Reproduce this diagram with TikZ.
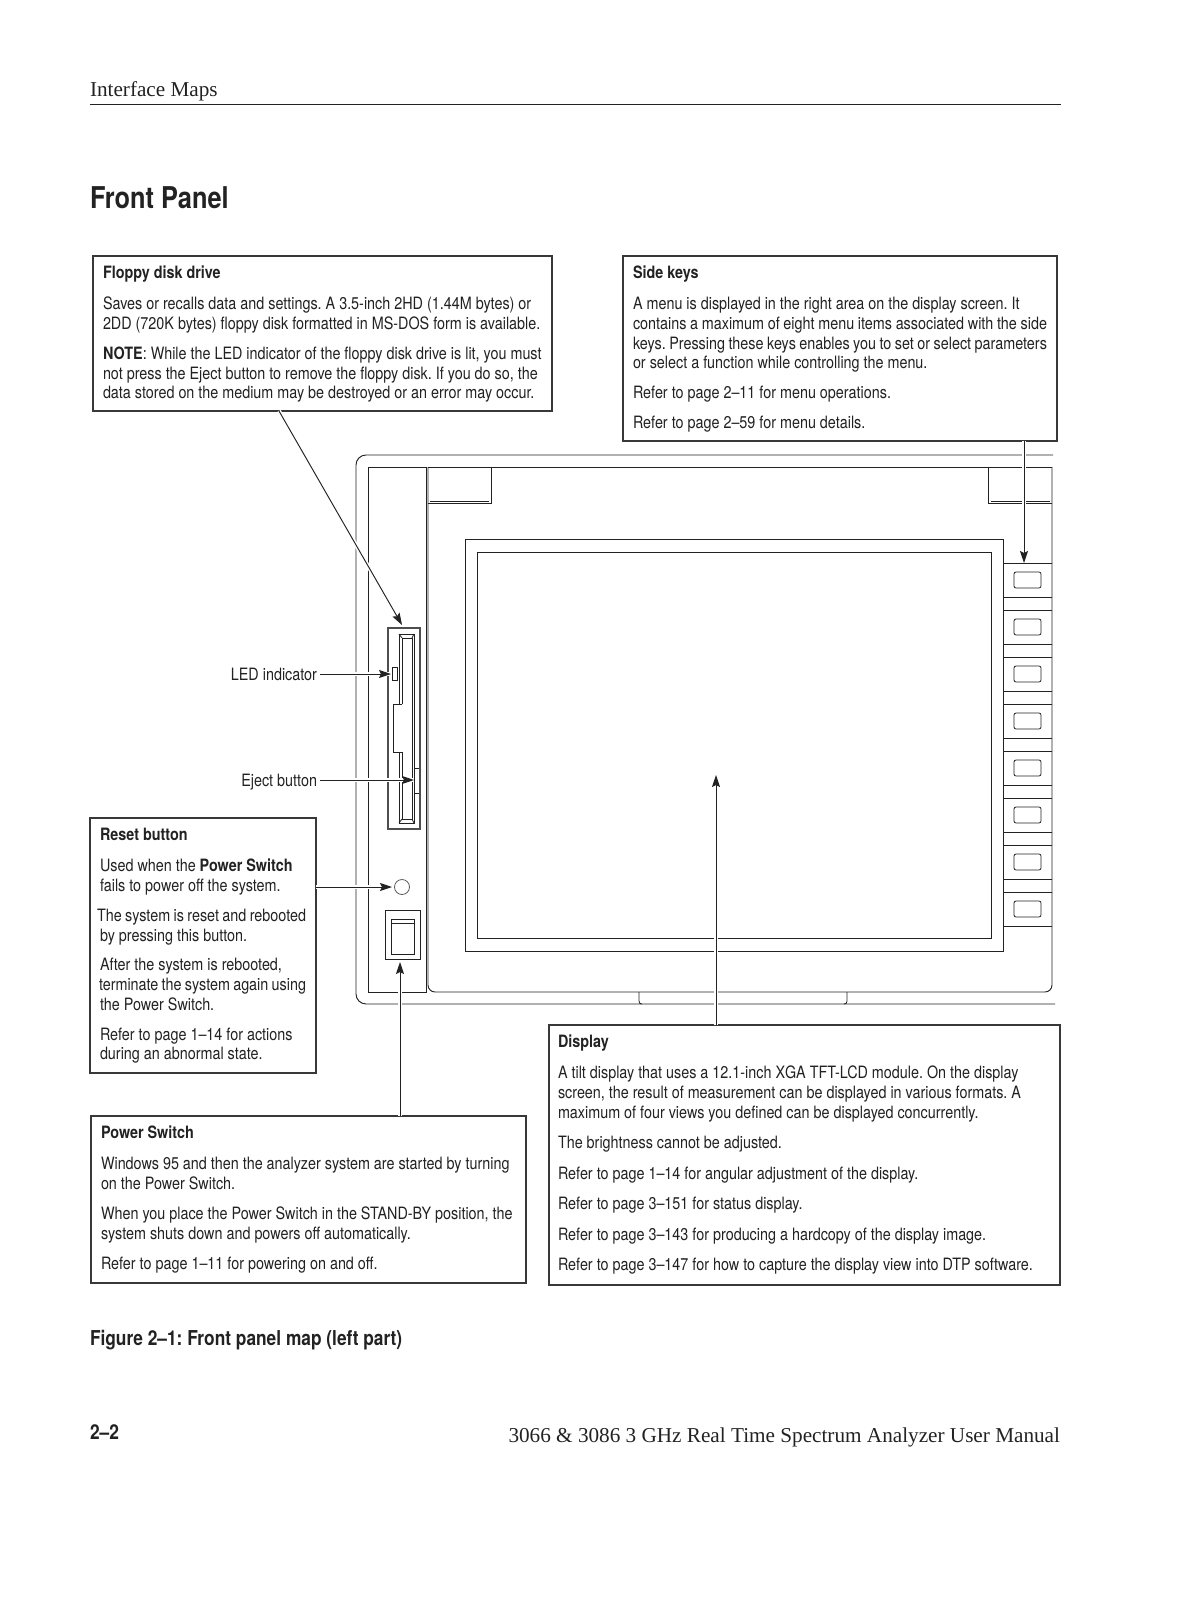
\documentclass[tikz,border=0pt]{standalone}
\usepackage{fontspec}
\usetikzlibrary{arrows.meta}
\setmainfont{Liberation Serif}
\newfontfamily\bodyfont[FakeStretch=0.845]{TeX Gyre Heros}
\definecolor{ink}{HTML}{222222}
\newcommand{\infotext}[3]{\parbox[t][#2pt][t]{#1pt}{\frenchspacing\rule{0pt}{22pt}\ignorespaces #3}}
\newcommand{\gap}{\\[10.2pt]}
\newcommand{\wgap}{\\[10.8pt]}
\newcommand{\tgap}{\\[12pt]}
\tikzset{
  every node/.style={inner sep=0pt,outer sep=0pt,text=ink},
  panel/.style={draw=ink,line width=0.95pt},
  fine/.style={draw=ink,line width=0.8pt},
  infobox/.style={draw=ink!90,line width=1.8pt,anchor=north west,inner xsep=10pt,inner ysep=0pt,
     font=\bodyfont\fontsize{17}{19.7}\selectfont,fill=white},
  part/.style={draw=ink,line width=0.95pt,anchor=north west},
  label/.style={font=\bodyfont\fontsize{17}{19.7}\selectfont,anchor=base east,inner xsep=3pt},
  halo/.style={draw=white,line width=4pt},
  conn/.style={draw=ink,line width=0.95pt,-{Stealth[length=12pt,width=8pt,inset=2pt]}},
  serifline/.style={font=\rmfamily\fontsize{21.2}{24}\selectfont,anchor=base west},
  headline/.style={font=\bodyfont\bfseries\fontsize{30}{32}\selectfont,anchor=base west},
  capline/.style={font=\bodyfont\bfseries\frenchspacing\fontsize{20.5}{24}\selectfont,anchor=base west},
}
\begin{document}
\begin{tikzpicture}[x=1pt,y=-1pt]
\useasboundingbox (0,0) rectangle (1180,1600);
% page furniture
\node[serifline] (runhead) at (90,97) {Interface Maps};
\draw[fine] (90,104) -- (1061,104);
\node[headline] (title) at (90,208) {Front Panel};
\node[capline] (caption) at (90,1345) {Figure 2–1: Front panel map (left part)};
\node[capline] (pageno) at (90,1439) {2–2};
\node[serifline,anchor=base east] (foot) at (1060,1442) {3066 \& 3086 3 GHz Real Time Spectrum Analyzer User Manual};
% instrument outline
\draw[panel,rounded corners=10pt] (1053,455) -- (356,455) -- (356,1004) -- (1055,1004);
\draw[panel] (368,467) rectangle (426,992);
\draw[panel] (1052,467) -- (428,467);
\draw[panel,rounded corners=7pt] (428,467) -- (428,992) -- (1052,992) -- (1052,467);
% top tabs
\draw[panel] (491,467) -- (491,503) -- (428,503);
\draw[fine] (430,501) -- (489,501);
\draw[panel] (988,467) -- (988,503) -- (1052,503);
\draw[fine] (991,501) -- (1050,501);
% bottom notches
\draw[fine] (639,992) -- (639,1001) .. controls (639,1003) and (640,1004) .. (642,1004);
\draw[fine] (847,992) -- (847,1001) .. controls (847,1003) and (846,1004) .. (844,1004);
% screen
\node[part,minimum width=538pt,minimum height=412pt] (bezel) at (465,539) {};
\node[part,minimum width=514pt,minimum height=386pt] (screen) at (477,552) {};
% side keys
\foreach \i in {0,...,7}{
  \pgfmathsetmacro{\ya}{563+47*\i}
  \pgfmathsetmacro{\yb}{597.5+47*\i}
  \pgfmathsetmacro{\yc}{572+47*\i}
  \draw[panel] (1003,\ya) -- (1052,\ya);
  \draw[panel] (1003,\yb) -- (1052,\yb);
  \node[draw=ink,line width=0.8pt,rounded corners=2pt,anchor=north west,minimum width=27pt,minimum height=16pt] (key\i) at (1014,\yc) {};
}
\draw[panel] (1003,563) -- (1003,951);
% floppy drive
\node[draw=ink!80,line width=1.6pt,anchor=north west,minimum width=32pt,minimum height=201pt] (fdd) at (388,628) {};
\draw[fine] (399,704) -- (399,634) -- (414,634) -- (414,823) -- (399,823) -- (399,752);
\draw[fine] (402,704) -- (402,638) -- (412,638) -- (412,819) -- (402,819) -- (402,752);
\draw[fine] (402,704) -- (393,704) -- (393,752) -- (402,752);
\draw[fine] (399,634) -- (402,638) (414,634) -- (412,638) (399,823) -- (402,819) (414,823) -- (412,819);
\draw[fine] (414,768) -- (419,768) (414,793) -- (419,793);
\node[draw=ink,line width=0.8pt,anchor=north west,minimum width=5pt,minimum height=13pt] (led) at (392,667) {};
% reset button and power switch
\node[draw=ink!75,line width=0.8pt,circle,minimum size=15pt] (resetbtn) at (402,887) {};
\node[part,minimum width=35pt,minimum height=49pt] (powersw) at (385,910) {};
\node[part,minimum width=23pt,minimum height=35pt] (rocker) at (391,919) {};
\draw[fine] (391,923) -- (414,923);
% text boxes
\node[infobox] (floppybox) at (93,256) {\infotext{439}{155}{\textbf{Floppy disk drive}\tgap
Saves or recalls data and settings. A 3.5-inch 2HD (1.44M bytes) or\\
2DD (720K bytes) floppy disk formatted in MS-DOS form is available.\gap
\textbf{NOTE}: While the LED indicator of the floppy disk drive is lit, you must\\
not press the Eject button to remove the floppy disk. If you do so, the\\
data stored on the medium may be destroyed or an error may occur.}};
\node[infobox] (sidebox) at (623,256) {\infotext{414}{185}{\textbf{Side keys}\tgap
A menu is displayed in the right area on the display screen. It\\
contains a maximum of eight menu items associated with the side\\
keys. Pressing these keys enables you to set or select parameters\\
or select a function while controlling the menu.\gap
Refer to page 2–11 for menu operations.\gap
Refer to page 2–59 for menu details.}};
\node[infobox] (resetbox) at (90,818) {\infotext{206}{255}{\textbf{Reset button}\tgap
Used when the \textbf{Power Switch}\\
fails to power off the system.\gap
\hspace*{-3pt}The system is reset and rebooted\\
by pressing this button.\gap
After the system is rebooted,\\
\hspace*{-1pt}terminate the system again using\\
the Power Switch.\gap
Refer to page 1–14 for actions\\
during an abnormal state.}};
\node[infobox] (powerbox) at (91,1116) {\infotext{415}{167}{\textbf{Power Switch}\tgap
Windows 95 and then the analyzer system are started by turning\\
on the Power Switch.\gap
When you place the Power Switch in the STAND-BY position, the\\
system shuts down and powers off automatically.\wgap
Refer to page 1–11 for powering on and off.}};
\node[infobox,inner xsep=9pt] (displaybox) at (549,1025) {\infotext{493}{260}{\textbf{Display}\tgap
A tilt display that uses a 12.1-inch XGA TFT-LCD module. On the display\\
screen, the result of measurement can be displayed in various formats. A\\
maximum of four views you defined can be displayed concurrently.\wgap
The brightness cannot be adjusted.\wgap
Refer to page 1–14 for angular adjustment of the display.\wgap
Refer to page 3–151 for status display.\wgap
Refer to page 3–143 for producing a hardcopy of the display image.\wgap
Refer to page 3–147 for how to capture the display view into DTP software.}};
% labels
\node[label] (ledlabel) at (320,680) {LED indicator};
\node[label] (ejectlabel) at (320,786) {Eject button};
% connector targets
\coordinate (fddtip) at (402,625);
\coordinate (fddstart) at (279,411);
\coordinate (ledtip) at (391,674);
\coordinate (ejecttip) at (414,780);
\coordinate (resettip) at (392,887);
\coordinate (powertip) at (400,962);
\coordinate (sidetip) at (1024,563);
\coordinate (screentip) at (716,775);
% connectors with white gap where they cross
\draw[halo] (fddstart) -- (fddtip);
\draw[conn] (fddstart) -- (fddtip);
\draw[halo] (ledlabel.east |- ledtip) -- (ledtip);
\draw[conn] (ledlabel.east |- ledtip) -- (ledtip);
\draw[halo] (ejectlabel.east |- ejecttip) -- (ejecttip);
\draw[conn] (ejectlabel.east |- ejecttip) -- (ejecttip);
\draw[halo] (resetbox.east |- resettip) -- (resettip);
\draw[conn] (resetbox.east |- resettip) -- (resettip);
\draw[halo] (powerbox.north -| powertip) -- (powertip);
\draw[conn] (powerbox.north -| powertip) -- (powertip);
\draw[halo] (sidebox.south -| sidetip) -- (sidetip);
\draw[conn] (sidebox.south -| sidetip) -- (sidetip);
\draw[halo] (displaybox.north -| screentip) -- (screentip);
\draw[conn] (displaybox.north -| screentip) -- (screentip);
\end{tikzpicture}
\end{document}
